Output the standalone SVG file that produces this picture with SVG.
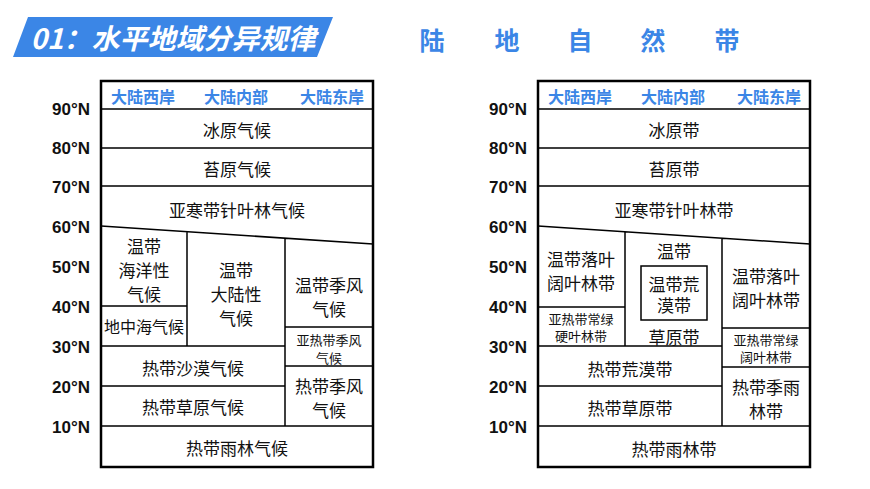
<svg xmlns="http://www.w3.org/2000/svg" width="870" height="489" viewBox="0 0 870 489">
<style>
.b{fill:none;stroke:#000;stroke-width:1.5}
.o{fill:none;stroke:#000;stroke-width:2.5}
text{font-family:"Noto Sans CJK SC","Noto Sans",sans-serif;text-anchor:middle;dominant-baseline:central}
.c{font-size:17px;fill:#111}
.s{font-size:13px;fill:#111}
.h{font-size:16px;font-weight:bold;fill:#3b86e6}
.l{font-family:"Liberation Sans",Arial,sans-serif;font-size:17px;font-weight:bold;text-anchor:end;fill:#111}
</style>
<g id="title">
<polygon points="28,17 333,17 317,57 13,57" fill="#3b86e6"/>
<text x="173" y="37" style="font-size:28px;font-weight:bold;font-style:italic;fill:#fff">01：水平地域分异规律</text>
</g>
<g id="title2" style="font-size:25px;font-weight:bold">
<text x="432" y="39" fill="#3b86e6">陆</text><text x="507" y="39" fill="#3b86e6">地</text><text x="580" y="39" fill="#3b86e6">自</text><text x="653" y="39" fill="#3b86e6">然</text><text x="727" y="39" fill="#3b86e6">带</text>
</g>
<g id="lat1">
<text class="l" x="90" y="109">90°N</text><text class="l" x="90" y="148">80°N</text><text class="l" x="90" y="187">70°N</text><text class="l" x="90" y="227">60°N</text><text class="l" x="90" y="267">50°N</text><text class="l" x="90" y="307">40°N</text><text class="l" x="90" y="347">30°N</text><text class="l" x="90" y="387">20°N</text><text class="l" x="90" y="427">10°N</text>
</g>
<g id="lat2">
<text class="l" x="527" y="109">90°N</text><text class="l" x="527" y="148">80°N</text><text class="l" x="527" y="187">70°N</text><text class="l" x="527" y="227">60°N</text><text class="l" x="527" y="267">50°N</text><text class="l" x="527" y="307">40°N</text><text class="l" x="527" y="347">30°N</text><text class="l" x="527" y="387">20°N</text><text class="l" x="527" y="427">10°N</text>
</g>
<g id="table1">
<rect class="o" x="101" y="81" width="272" height="386"/>
<path class="b" d="M101 109H373M101 148H373M101 186H373M101 226L373 244M187 232V346M285 238V426M101 306H187M285 327H373M285 366H373M101 346H285M101 386H285M101 426H373"/>
<text class="h" x="143" y="96">大陆西岸</text><text class="h" x="236" y="96">大陆内部</text><text class="h" x="332" y="96">大陆东岸</text>
<text class="c" x="237" y="129">冰原气候</text>
<text class="c" x="237" y="168">苔原气候</text>
<text class="c" x="237" y="209">亚寒带针叶林气候</text>
<text class="c" x="144" y="245">温带</text><text class="c" x="144" y="269">海洋性</text><text class="c" x="144" y="293">气候</text>
<text class="c" x="144" y="326" style="font-size:16px">地中海气候</text>
<text class="c" x="236" y="269">温带</text><text class="c" x="236" y="293">大陆性</text><text class="c" x="236" y="317">气候</text>
<text class="c" x="329" y="284">温带季风</text><text class="c" x="329" y="308">气候</text>
<text class="s" x="329" y="339">亚热带季风</text><text class="s" x="329" y="357">气候</text>
<text class="c" x="193" y="367">热带沙漠气候</text>
<text class="c" x="193" y="406">热带草原气候</text>
<text class="c" x="329" y="385">热带季风</text><text class="c" x="329" y="409">气候</text>
<text class="c" x="237" y="447">热带雨林气候</text>
</g>
<g id="table2">
<rect class="o" x="538" y="81" width="272" height="386"/>
<rect class="b" x="641" y="266" width="66" height="54"/>
<path class="b" d="M538 109H810M538 148H810M538 186H810M538 226L810 244M625 232V346M722 238V426M538 307H625M722 328H810M722 367H810M538 346H722M538 386H722M538 426H810"/>
<text class="h" x="580" y="96">大陆西岸</text><text class="h" x="673" y="96">大陆内部</text><text class="h" x="769" y="96">大陆东岸</text>
<text class="c" x="674" y="129">冰原带</text>
<text class="c" x="674" y="168">苔原带</text>
<text class="c" x="674" y="209">亚寒带针叶林带</text>
<text class="c" x="581" y="258">温带落叶</text><text class="c" x="581" y="282">阔叶林带</text>
<text class="s" x="581" y="318">亚热带常绿</text><text class="s" x="581" y="335">硬叶林带</text>
<text class="c" x="674" y="250">温带</text>
<text class="c" x="674" y="283">温带荒</text><text class="c" x="674" y="304">漠带</text>
<text class="c" x="674" y="336">草原带</text>
<text class="c" x="766" y="275">温带落叶</text><text class="c" x="766" y="299">阔叶林带</text>
<text class="s" x="766" y="339">亚热带常绿</text><text class="s" x="766" y="356">阔叶林带</text>
<text class="c" x="630" y="368">热带荒漠带</text>
<text class="c" x="630" y="407">热带草原带</text>
<text class="c" x="766" y="386">热带季雨</text><text class="c" x="766" y="410">林带</text>
<text class="c" x="674" y="448">热带雨林带</text>
</g>
</svg>
